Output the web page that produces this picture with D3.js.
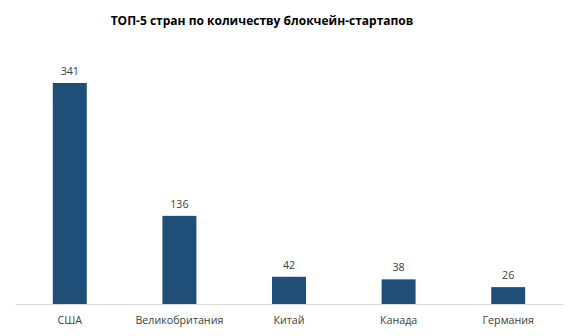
<!DOCTYPE html>
<html>
<head>
<meta charset="utf-8">
<script src="https://cdn.jsdelivr.net/npm/d3@7"></script>
<style>
  html, body { margin: 0; padding: 0; background: #fff; }
  svg { display: block; }
</style>
</head>
<body>
<svg id="chart" width="576" height="336"></svg>
<script>
// Number of blockchain startups by country (top 5)
const countries = ["США", "Великобритания", "Китай", "Канада", "Германия"];
const startups = [341, 136, 42, 38, 26];
const chartTitle = "ТОП-5 стран по количеству блокчейн-стартапов";

const svg = d3.select("#chart");
const W = 576, H = 336;
const left = 15, right = 563, baseY = 304, topY = 83;

svg.append("rect").attr("width", W).attr("height", H).attr("fill", "#fff");

const x = d3.scaleBand()
  .domain(countries)
  .range([left, right])
  .paddingInner(0.69)
  .paddingOuter(0.345);

const y = d3.scaleLinear()
  .domain([0, 341])
  .range([baseY, topY]);

// title
svg.append("text")
  .attr("x", 262)
  .attr("y", 25)
  .attr("text-anchor", "middle")
  .attr("font-family", "'Open Sans', sans-serif")
  .attr("font-weight", "bold")
  .attr("font-size", 12)
  .attr("fill", "#000")
  .text(chartTitle);

// bars
svg.append("g").selectAll("rect")
  .data(countries)
  .join("rect")
  .attr("x", d => x(d))
  .attr("width", x.bandwidth())
  .attr("y", (d, i) => y(startups[i]))
  .attr("height", (d, i) => baseY - y(startups[i]))
  .attr("fill", "#1F4E79");

// baseline axis
const axis = svg.append("g")
  .attr("transform", `translate(0,${baseY})`)
  .call(d3.axisBottom(x).tickSize(0).tickPadding(12));
axis.select(".domain").attr("stroke", "#d9d9d9").attr("stroke-width", 1);
axis.selectAll("text")
  .attr("font-family", "'Open Sans', sans-serif")
  .attr("font-size", 10.7)
  .attr("fill", "#404040");

// value labels
svg.append("g").selectAll("text")
  .data(countries)
  .join("text")
  .attr("x", d => x(d) + x.bandwidth() / 2)
  .attr("y", (d, i) => y(startups[i]) - 8)
  .attr("text-anchor", "middle")
  .attr("font-family", "'Open Sans', sans-serif")
  .attr("font-size", 10.7)
  .attr("fill", "#404040")
  .text((d, i) => startups[i]);
</script>
</body>
</html>
